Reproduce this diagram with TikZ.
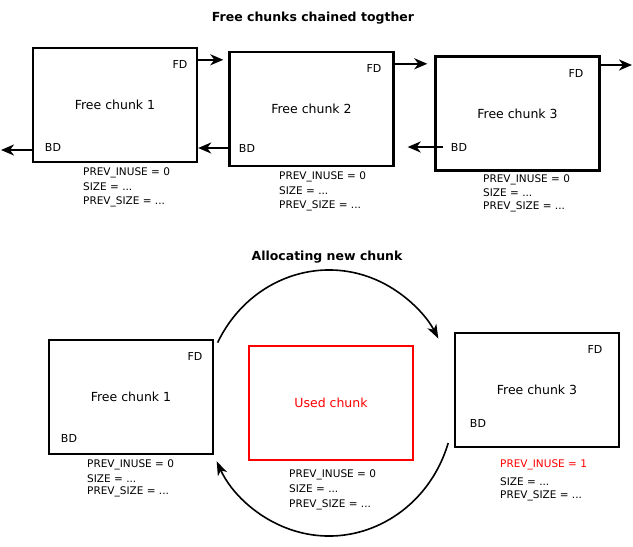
\documentclass[tikz,border=0pt]{standalone}
\usepackage{fontspec}
\setmainfont{DejaVu Sans}
\usetikzlibrary{arrows.meta,positioning}

\begin{document}
\begin{tikzpicture}[x=1pt,y=-1pt,
  chunk/.style={draw=black,line width=2.4pt,minimum width=164pt,
                minimum height=114pt,inner sep=0pt,
                font=\fontsize{12.5}{15}\selectfont},
  usedchunk/.style={chunk,draw=red,line width=2pt,text=red},
  ptr/.style={inner sep=0pt,font=\fontsize{11}{13}\selectfont},
  info/.style={anchor=north west,inner sep=0pt,align=left,
               font=\fontsize{10.5}{14.5}\selectfont},
  heading/.style={font=\fontsize{12.5}{15}\selectfont\bfseries},
  arr/.style={-{Stealth[length=13pt,width=11pt,inset=4pt]},line width=2.3pt},
  ringarr/.style={-{Stealth[length=14pt,width=10pt,inset=4pt]},line width=1.6pt}
]
\useasboundingbox (0,0) rectangle (633,547);

% free chunks chained together
\node[heading] (title1) at (313,18) {Free chunks chained togther};
\node[chunk] (c1) at (115,105) {Free chunk 1};
\node[chunk] (c2) at (311.5,109) {Free chunk 2};
\node[chunk] (c3) at (517.5,113.5) {Free chunk 3};
\node[ptr] (fd1) at (180,64) {FD};
\node[ptr] (bd1) at (53,147) {BD};
\node[ptr] (fd2) at (374,68) {FD};
\node[ptr] (bd2) at (247,148) {BD};
\node[ptr] (fd3) at (576,73) {FD};
\node[ptr] (bd3) at (459,147) {BD};
\coordinate (fdout) at (632,65);
\coordinate (bdout) at (1,150);
\draw[arr,shorten >=5pt] (fd1.north -| c1.east) -- (fd1.north -| c2.west);
\draw[arr,shorten >=7pt] (fd2.north -| c2.east) -- (fd2.north -| c3.west);
\draw[arr] (c3.east |- fdout) -- (fdout);
\draw[arr] (c1.west |- bdout) -- (bdout);
\draw[arr] (bd2 -| c2.west) -- (bd2 -| c1.east);
\draw[arr,shorten >=13pt] ([xshift=9pt]bd3 -| c3.west) -- (bd3 -| c2.east);
\node[info] (i1) at (83,168) {PREV\_INUSE = 0\\SIZE = ...\\PREV\_SIZE = ...};
\node[info] (i2) at (279,172) {PREV\_INUSE = 0\\SIZE = ...\\PREV\_SIZE = ...};
\node[info] (i3) at (483,175) {PREV\_INUSE = 0\\[-1pt]SIZE = ...\\[-1pt]PREV\_SIZE = ...};

% allocating new chunk
\node[heading] (title2) at (327,257) {Allocating new chunk};
\node[chunk] (a1) at (131,397) {Free chunk 1};
\node[usedchunk] (used) at (331,403) {Used chunk};
\node[chunk] (a3) at (537,390) {Free chunk 3};
\node[ptr] (afd1) at (195,356) {FD};
\node[ptr] (abd1) at (69,438) {BD};
\node[ptr] (afd3) at (595,349) {FD};
\node[ptr] (abd3) at (478,423) {BD};
\node[info] (ai1) at (87,460) {PREV\_INUSE = 0\\[-0.5pt]SIZE = ...\\[-1.5pt]PREV\_SIZE = ...};
\node[info] (ai2) at (289,470) {PREV\_INUSE = 0\\[0.5pt]SIZE = ...\\PREV\_SIZE = ...};
\node[info] (ai3) at (500,460)
  {\textcolor{red}{PREV\_INUSE = 1}\\[3.5pt]SIZE = ...\\[-1.5pt]PREV\_SIZE = ...};
\coordinate (ring) at (329,403);
\draw[ringarr] ([shift={(-153:125 and 133)}]ring)
  arc[start angle=-153,end angle=-29,x radius=125,y radius=133];
\draw[ringarr] ([shift={(17.5:125 and 133)}]ring)
  arc[start angle=17.5,end angle=154,x radius=125,y radius=133];
\end{tikzpicture}
\end{document}
